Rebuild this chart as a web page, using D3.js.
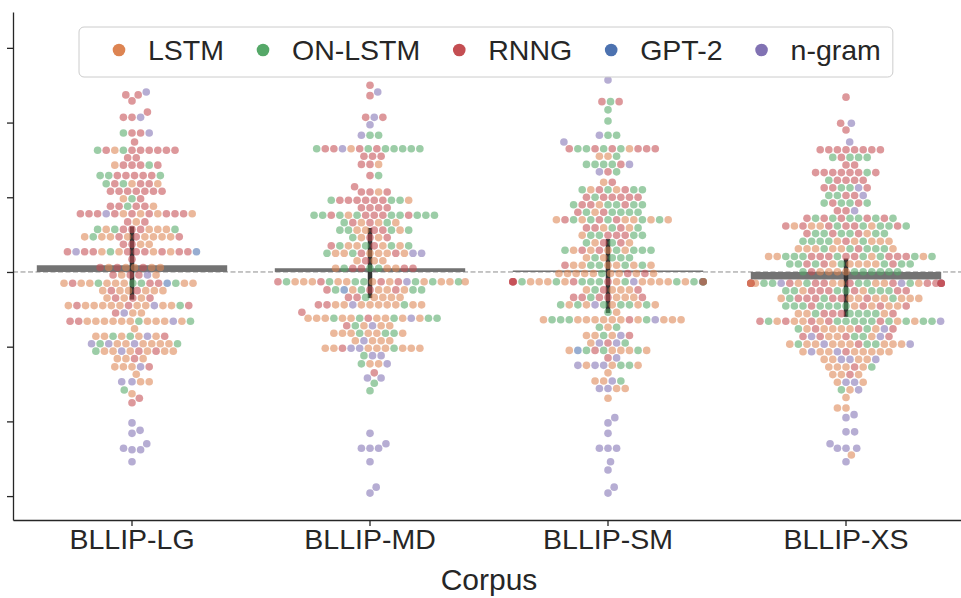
<!DOCTYPE html>
<html>
<head>
<meta charset="utf-8">
<script src="https://cdn.jsdelivr.net/npm/d3@7"></script>
<style>
  body { margin: 0; background: #fff; }
  text { font-family: "Liberation Sans", Arial, sans-serif; fill: #262626; }
</style>
</head>
<body>
<div id="chart"></div>
<script>
// Categories / series
const corpora = ["BLLIP-LG", "BLLIP-MD", "BLLIP-SM", "BLLIP-XS"];
const models = ["LSTM", "ON-LSTM", "RNNG", "GPT-2", "n-gram"];
const modelCodes = { L: "LSTM", O: "ON-LSTM", R: "RNNG", G: "GPT-2", N: "n-gram" };
const colors = ["#dd8452", "#55a868", "#c44e52", "#4c72b0", "#8172b3"];

// Mean and 95% CI per corpus
const meanDelta = [0.09, 0.05, 0.02, -0.10];
const ciLow = [-0.37, -0.35, -0.55, -0.60];
const ciHigh = [0.61, 0.59, 0.44, 0.18];

const yTicks = [-3, -2, -1, 0, 1, 2, 3];

// Swarm points: [value, one letter per point (model code)]
const rowsLG = [
  [2.41, "N"], [2.37, "RR"], [2.29, "R"], [2.14, "R"], [2.07, "RNR"],
  [1.86, "RRON"], [1.74, "R"], [1.63, "RRORLRRROR"], [1.53, "RR"], [1.43, "RRROLR"],
  [1.29, "RRRRROOO"], [1.18, "LRORRLO"], [1.08, "RRRRRRR"], [0.98, "ORL"], [0.88, "RORRLR"],
  [0.78, "RLLRRLNRRRRRRL"], [0.67, "LRR"], [0.57, "RRRLOLLLOO"], [0.47, "RLLRLLLLLORL"],
  [0.37, "RLRL"], [0.27, "RRRLLORLLRRRRNGR"], [0.17, "R"], [0.06, "LLRRLLLR"],
  [-0.04, "RRLNRL"], [-0.15, "OLOLRLROGLOLLRLL"], [-0.25, "LRLLRLLL"], [-0.35, "RLLRRL"],
  [-0.45, "RLLLLNLLLLLORRL"], [-0.55, "LNLR"], [-0.66, "LOLLLLLLLNLLROR"], [-0.76, "L"],
  [-0.86, "OLLNOLLRL"], [-0.96, "NLLLLNLOLNO"], [-1.06, "LRNLLRLLOL"], [-1.16, "RLLL"],
  [-1.27, "LNLRL"], [-1.37, "L"], [-1.47, "NLNL"], [-1.58, "O"], [-1.63, "L"],
  [-1.69, "R"], [-1.75, "R"], [-2.02, "N"], [-2.12, "N"], [-2.16, "N"], [-2.30, "N"],
  [-2.36, "N"], [-2.38, "NN"], [-2.54, "N"]
];

const rowsMD = [
  [2.50, "R"], [2.41, "N"], [2.36, "R"], [2.07, "NRR"], [1.97, "N"],
  [1.83, "OON"], [1.65, "ORROLONOROROO"], [1.55, "RRR"], [1.44, "RLR"], [1.29, "RO"],
  [1.14, "R"], [1.07, "RLRR"], [0.96, "RRRRORORLO"], [0.86, "RRRR"],
  [0.76, "RRROOLOORROOOOO"], [0.66, "RLLORLO"], [0.56, "RLRLOOLOO"], [0.46, "RLLRO"],
  [0.35, "ROLLOLLOOR"], [0.25, "LLRLORLLLNON"], [0.15, "LRLL"], [0.05, "OORLRLORLR"],
  [-0.13, "LOROLLRLNOORLLOLLLLOORL"], [-0.24, "RLOLLRGLOORO"], [-0.34, "LOLRLRL"],
  [-0.44, "LLLLNLLOLLRLR"], [-0.54, "R"], [-0.62, "RLOLLOLLONLLLOLO"],
  [-0.72, "NLLOLR"], [-0.82, "LLOOLOLLL"], [-0.92, "LNLLL"], [-1.02, "LLNLNORLLLLL"],
  [-1.12, "NON"], [-1.23, "LLON"], [-1.35, "R"], [-1.42, "NN"], [-1.49, "O"], [-1.59, "O"],
  [-2.16, "N"], [-2.30, "N"], [-2.36, "NNN"], [-2.54, "N"], [-2.88, "N"], [-2.96, "N"]
];

const rowsSM = [
  [2.57, "N"], [2.28, "ORR"], [2.17, "O"], [2.02, "O"], [1.83, "OON"], [1.74, "N"],
  [1.65, "ROORLORORRR"], [1.55, "LOL"], [1.44, "OORONO"], [1.34, "RON"], [1.20, "RL"],
  [1.10, "OLRRLOOO"], [1.00, "RRRORRR"], [0.90, "OOLRROROO"], [0.80, "OROLOOOR"],
  [0.70, "ORRLOLLOOLROLL"], [0.59, "OLRRLRO"], [0.49, "RROROOLO"], [0.39, "ORRLLO"],
  [0.29, "LORLLOROLOO"], [0.19, "OLOOOL"], [0.09, "LLOOOLLOLLR"], [-0.02, "LOLLRLLLRLLL"],
  [-0.13, "RLOOONOLRLLLOLLOLLLOOGRORLRORR"], [-0.24, "LRLOLLR"], [-0.34, "RLRLOLRRR"],
  [-0.44, "LOONOLLOOLLO"], [-0.54, "OL"], [-0.64, "LLLLRLLLOONOLOLLL"], [-0.74, "LOO"],
  [-0.85, "LONLRL"], [-0.95, "RNNOL"], [-1.05, "LOLRLOOGLL"], [-1.15, "RN"],
  [-1.25, "LNONOLLN"], [-1.35, "L"], [-1.46, "NLOL"], [-1.56, "NLNL"], [-1.69, "L"],
  [-1.95, "N"], [-2.02, "N"], [-2.16, "N"], [-2.36, "NNN"], [-2.54, "N"], [-2.65, "N"],
  [-2.88, "N"], [-2.96, "N"]
];

const rowsXS = [
  [2.34, "R"], [1.99, "NR"], [1.90, "R"], [1.74, "N"], [1.636, "RRRRRRRR"], [1.534, "OROOO"],
  [1.432, "RR"], [1.33, "RRRRORRR"], [1.228, "RRRRO"], [1.126, "OONRRR"], [1.024, "RRONO"],
  [0.922, "OORROO"], [0.82, "RNR"], [0.718, "OROORROORRO"], [0.616, "RROORLLOLORRLOR"],
  [0.514, "OORRLOOOOR"], [0.412, "RLLOOLOLOLO"], [0.31, "OLRLOOOLOLLL"],
  [0.208, "RROORLRORROROROOLLLO"], [0.106, "LOLLLRLOORROOOO"], [0.004, "LOLOLOLOROOO"],
  [-0.15, "RLOLORLRLORLNRONLORORLNRRRRRRL"], [-0.252, "OROLROROROLRORO"],
  [-0.354, "LRLRROLRLRORLOLLL"], [-0.456, "OLOROLORRLOLORO"], [-0.558, "OROROROOLLRL"],
  [-0.66, "OOOOROLRROLLLORLLOOORN"], [-0.762, "LLRLOLLRNLRO"], [-0.864, "ROLOLLRNNRR"],
  [-0.966, "LLRLONOLLLLOLLN"], [-1.068, "RLNLLLLLNLL"], [-1.17, "NNLLLLN"],
  [-1.272, "LRLLLO"], [-1.374, "RLLL"], [-1.476, "NNLL"], [-1.578, "LON"], [-1.68, "L"],
  [-1.82, "LL"], [-1.91, "N"], [-1.95, "N"], [-2.14, "NN"], [-2.30, "N"], [-2.36, "NNN"],
  [-2.45, "L"], [-2.54, "N"]
];

const rowsByCorpus = [rowsLG, rowsMD, rowsSM, rowsXS];

// Chart settings
const margin = { top: 12, right: 0, bottom: 78, left: 13 },
      width = 952,
      height = 598 - margin.top - margin.bottom;

const svg = d3.select("#chart")
  .append("svg")
  .attr("width", 961)
  .attr("height", 598)
  .append("g")
  .attr("transform", `translate(${margin.left},${margin.top})`);

const x = d3.scaleBand().domain(corpora).range([0, width]).padding(0);
const y = d3.scaleLinear().domain([-3.32, 3.48]).range([height, 0]);
const color = d3.scaleOrdinal().domain(models).range(colors);

const diam = 8.6;       // swarm collision distance
const radius = 3.8;
const half = x.bandwidth() * 0.4;

// Seaborn-like beeswarm (placed from the lowest value upwards)
function beeswarm(rows, cx) {
  const pts = [];
  rows.forEach(([v, codes]) => {
    for (const c of codes) pts.push({ value: v, model: modelCodes[c], py: y(v) });
  });
  pts.sort((a, b) => b.py - a.py);
  const placed = [];
  pts.forEach(p => {
    const near = placed.filter(q => Math.abs(q.py - p.py) < diam);
    const cands = [0];
    near.forEach(q => {
      const dx = Math.sqrt(diam * diam - (q.py - p.py) ** 2);
      cands.push(q.dx + dx, q.dx - dx);
    });
    const key = c => Math.round(Math.abs(c) * 1000);
    cands.sort((a, b) => (key(a) - key(b)) || (b - a));
    p.dx = cands.find(c => near.every(q => (q.dx - c) ** 2 + (q.py - p.py) ** 2 >= diam * diam - 0.01));
    placed.push(p);
  });
  // gutters
  pts.forEach(p => { p.px = cx + Math.max(-half, Math.min(half, p.dx)); });
  return pts;
}

// Zero reference line
svg.append("line")
  .attr("x1", 0).attr("x2", width)
  .attr("y1", y(0)).attr("y2", y(0))
  .attr("stroke", "#8c8c8c")
  .attr("stroke-width", 1)
  .attr("stroke-dasharray", "5,2.5");

// Mean bars
svg.selectAll(".bar")
  .data(corpora)
  .enter()
  .append("rect")
  .attr("class", "bar")
  .attr("x", d => x(d) + x.bandwidth() * 0.1)
  .attr("width", x.bandwidth() * 0.8)
  .attr("y", (d, i) => y(Math.max(0, meanDelta[i])))
  .attr("height", (d, i) => Math.abs(y(meanDelta[i]) - y(0)))
  .attr("fill", "#737373");

// Error bars
svg.selectAll(".err")
  .data(corpora)
  .enter()
  .append("line")
  .attr("class", "err")
  .attr("x1", d => x(d) + x.bandwidth() / 2)
  .attr("x2", d => x(d) + x.bandwidth() / 2)
  .attr("y1", (d, i) => y(ciLow[i]))
  .attr("y2", (d, i) => y(ciHigh[i]))
  .attr("stroke", "#333333")
  .attr("stroke-width", 4.5);

// Swarm dots
corpora.forEach((c, i) => {
  const pts = beeswarm(rowsByCorpus[i], x(c) + x.bandwidth() / 2);
  svg.append("g")
    .selectAll("circle")
    .data(pts)
    .enter()
    .append("circle")
    .attr("cx", d => d.px)
    .attr("cy", d => d.py)
    .attr("r", radius)
    .attr("fill", d => color(d.model))
    .attr("fill-opacity", 0.58);
});

// Axes
const xAxis = svg.append("g")
  .attr("transform", `translate(0,${height})`)
  .call(d3.axisBottom(x).tickSize(6).tickSizeOuter(0));
xAxis.selectAll("text").style("font-size", "28.5px").attr("fill", "#262626");

const yAxis = svg.append("g")
  .call(d3.axisLeft(y).tickValues(yTicks).tickFormat("").tickSize(6).tickSizeOuter(0));

[xAxis, yAxis].forEach(a => {
  a.select(".domain").attr("stroke", "#262626").attr("stroke-width", 1.3);
  a.selectAll(".tick line").attr("stroke", "#262626").attr("stroke-width", 1.3);
});

svg.append("text")
  .attr("x", width / 2)
  .attr("y", height + 70)
  .attr("text-anchor", "middle")
  .style("font-size", "30px")
  .text("Corpus");

// Legend
const legend = svg.append("g").attr("transform", `translate(0,${50 - margin.top})`);
const box = legend.append("rect")
  .attr("x", 79 - margin.left).attr("y", -23)
  .attr("height", 50).attr("rx", 5)
  .attr("fill", "#fff").attr("fill-opacity", 0.8)
  .attr("stroke", "#cccccc").attr("stroke-width", 1);

let cursor = 119 - margin.left;
models.forEach(m => {
  legend.append("circle")
    .attr("cx", cursor).attr("cy", 0).attr("r", 6.3)
    .attr("fill", color(m));
  const t = legend.append("text")
    .attr("x", cursor + 29).attr("y", 10)
    .style("font-size", "28.5px")
    .text(m);
  cursor = cursor + 29 + t.node().getComputedTextLength() + 39;
});
box.attr("width", cursor - 39 + 12 - (79 - margin.left));
</script>
</body>
</html>
